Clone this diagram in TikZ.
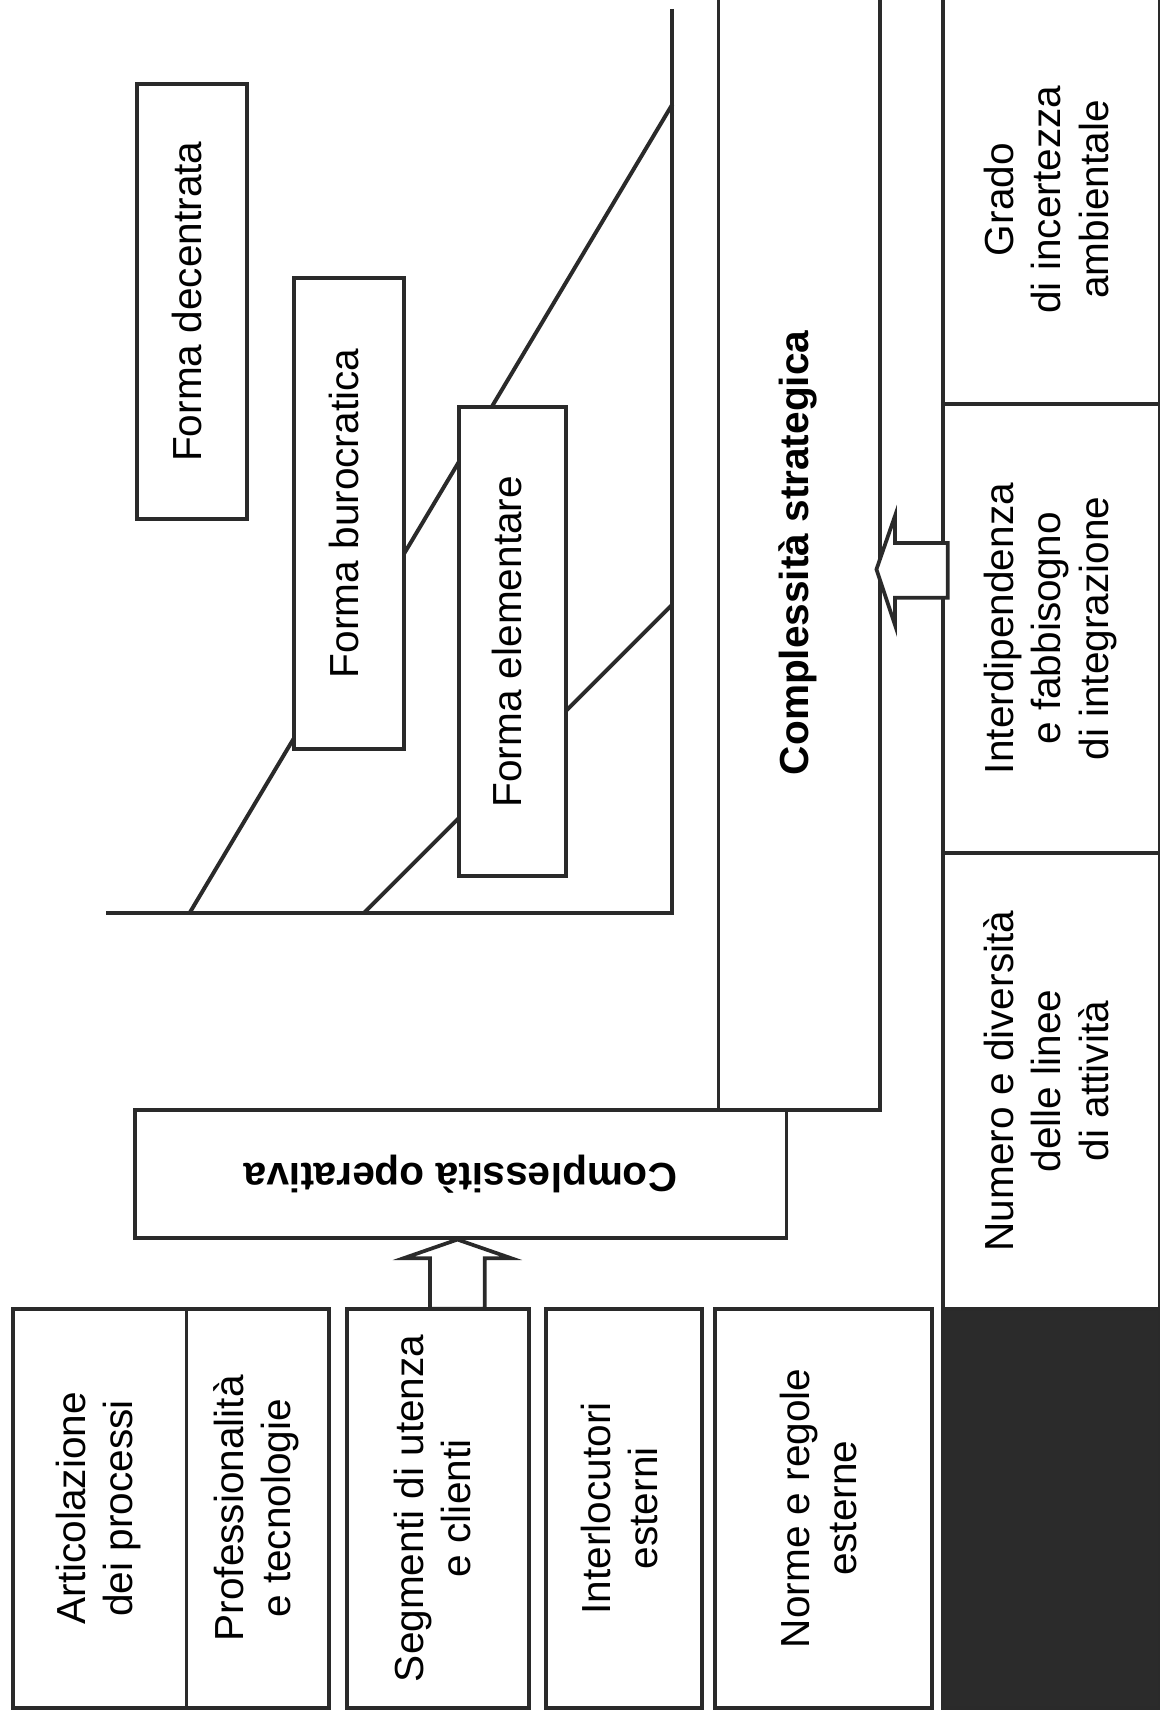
\documentclass[tikz,border=0pt]{standalone}
\usepackage{graphicx}
\usepackage{fontspec}
\setmainfont{Liberation Sans}
\usetikzlibrary{calc}

\definecolor{ink}{HTML}{2A2A2A}
\definecolor{slab}{HTML}{2B2B2B}

% multi-line label set vertically (reads bottom to top)
\newcommand\uplabel[1]{\rotatebox{90}{\begin{tabular}{@{}c@{}}#1\end{tabular}}}
% label turned upside down
\newcommand\flipped[1]{\rotatebox{180}{#1}}

\begin{document}
\begin{tikzpicture}[x=1pt,y=-1pt,
  every node/.style={inner sep=0pt, outer sep=0pt, font=\fontsize{37}{43}\selectfont},
  panel/.style={draw=ink, line width=3.6pt, fill=white, rectangle},
  darkpanel/.style={draw=ink, line width=3.6pt, fill=slab, rectangle},
  edge/.style={draw=ink, line width=3.6pt},
  blockarrow/.style={draw=ink, line width=3.4pt, fill=white, line join=miter}]

% page
\fill[white] (0,0) rectangle (1057,1568);
\useasboundingbox (0,0) rectangle (1057,1568);

% ---- axes and boundary lines between the organisational forms
\coordinate (O) at (613,832);
\coordinate (ytop) at (613,8);
\coordinate (xleft) at (97,832);
\coordinate (a1) at (173,832);
\coordinate (b1) at (613,95);
\coordinate (a2) at (332,832);
\coordinate (b2) at (613,551);
\draw[edge, line join=miter] (ytop) -- (O) -- (xleft);
\draw[edge] (a1) -- (b1);
\draw[edge] (a2) -- (b2);

% ---- organisational forms
\node[panel, minimum width=100pt, minimum height=396pt] (decentr) at (175,275)
  {\uplabel{Forma decentrata}};
\node[panel, minimum width=100pt, minimum height=430pt] (buro) at (318,468)
  {\uplabel{Forma burocratica}};
\node[panel, minimum width=98pt, minimum height=428pt] (elem) at (467,585)
  {\uplabel{Forma elementare}};

% ---- complexity blocks
\node[panel, minimum width=147pt, minimum height=1016pt] (strat) at (728.5,504)
  {\uplabel{\bfseries Complessità strategica}};
\node[panel, minimum width=594pt, minimum height=117pt] (oper) at (420,1070.5)
  {\flipped{\bfseries Complessità operativa}};

% ---- right column: strategic drivers
\node[panel, minimum width=197pt, minimum height=372pt] (grado) at (958.5,182)
  {\uplabel{Grado\\di incertezza\\ambientale}};
\node[panel, minimum width=197pt, minimum height=410pt] (interd) at (958.5,573)
  {\uplabel{Interdipendenza\\e fabbisogno\\di integrazione}};
\node[panel, minimum width=197pt, minimum height=415pt] (numero) at (958.5,985.5)
  {\uplabel{Numero e diversità\\delle linee\\di attività}};
\node[darkpanel, minimum width=197pt, minimum height=364pt] (corner) at (958.5,1375) {};

% ---- bottom row: operational drivers
\node[panel, minimum width=158pt, minimum height=364pt] (artic) at (91,1375)
  {\uplabel{Articolazione\\dei processi}};
\node[panel, minimum width=130pt, minimum height=364pt] (profes) at (235,1375)
  {\uplabel{Professionalità\\e tecnologie}};
\node[panel, minimum width=166pt, minimum height=364pt] (segm) at (399,1375)
  {\uplabel{Segmenti di utenza\\e clienti}};
\node[panel, minimum width=142pt, minimum height=364pt] (interl) at (569,1375)
  {\uplabel{Interlocutori\\esterni}};
\node[panel, minimum width=198pt, minimum height=364pt] (norme) at (751,1375)
  {\uplabel{Norme e regole\\esterne}};

% ---- hollow block arrows
% from the drivers column into the strategic block
\coordinate (ltip) at ($(strat.east)+(-3,15)$);
\draw[blockarrow] (ltip) -- ++(17,-49) -- ++(0,25) -- ++(48,0) -- ++(0,50)
  -- ++(-48,0) -- ++(0,25) -- cycle;
% from the client segments up into the operational block
\coordinate (utip) at ($(oper.south)+(-3,1)$);
\draw[blockarrow] (utip) -- ++(49,17) -- ++(-24,0) -- ++(0,46) -- ++(-50,0)
  -- ++(0,-46) -- ++(-24,0) -- cycle;

\end{tikzpicture}
\end{document}
